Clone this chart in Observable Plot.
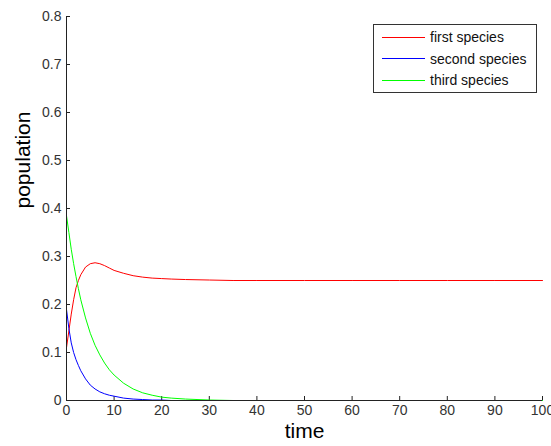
<!DOCTYPE html>
<html>
<head>
<meta charset="utf-8">
<script src="https://cdn.jsdelivr.net/npm/d3@7"></script>
<script src="https://cdn.jsdelivr.net/npm/@observablehq/plot@0.6"></script>
<style>
  html, body { margin: 0; padding: 0; background: #fff; }
  #wrap { position: relative; width: 551px; height: 446px; font-family: "Liberation Sans", Arial, sans-serif; }
  #legend { position: absolute; left: 373px; top: 24px; width: 162px; height: 67px; border: 1px solid #333; background: #fff; }
  .row { position: absolute; left: 0; height: 20px; display: flex; align-items: center; font-size: 14px; color: #111; }
  .swatch { display: inline-block; width: 43px; height: 0; border-top: 1px solid; margin-left: 8px; margin-right: 5px; }
</style>
</head>
<body>
<div id="wrap"></div>
<script>
const time   = [0, 0.5, 1, 1.5, 2, 2.5, 3, 4, 5, 6, 7, 8, 9, 10, 12, 14, 16, 18, 20, 22, 25, 30, 35, 40, 50, 60, 70, 80, 90, 100];
const first  = [0.11, 0.145, 0.18, 0.21, 0.235, 0.25, 0.262, 0.278, 0.285, 0.287, 0.285, 0.281, 0.276, 0.271, 0.265, 0.26, 0.257, 0.255, 0.254, 0.253, 0.252, 0.251, 0.25, 0.25, 0.25, 0.25, 0.25, 0.25, 0.25, 0.25];
const second = [0.19, 0.15, 0.12, 0.1, 0.085, 0.073, 0.062, 0.045, 0.032, 0.024, 0.018, 0.014, 0.011, 0.009, 0.005, 0.003, 0.002, 0.001, 0.001, 0, 0, 0, 0, 0, 0, 0, 0, 0, 0, 0];
const third  = [0.385, 0.35, 0.315, 0.285, 0.258, 0.233, 0.21, 0.172, 0.14, 0.115, 0.095, 0.078, 0.064, 0.053, 0.036, 0.024, 0.016, 0.011, 0.007, 0.005, 0.003, 0.001, 0, 0, 0, 0, 0, 0, 0, 0];
const seriesNames  = ["first species", "second species", "third species"];
const seriesColors = ["#ff0000", "#0000ff", "#00ff00"];
const xTicks = [0, 10, 20, 30, 40, 50, 60, 70, 80, 90, 100];
const yTicks = [0, 0.1, 0.2, 0.3, 0.4, 0.5, 0.6, 0.7, 0.8];
const xLabel = "time";
const yLabel = "population";

const seriesValues = [first, second, third];
const rows = [];
seriesNames.forEach((name, i) => {
  time.forEach((t, j) => rows.push({series: name, time: t, value: seriesValues[i][j]}));
});

const chart = Plot.plot({
  width: 551,
  height: 446,
  marginLeft: 66,
  marginRight: 9,
  marginTop: 16,
  marginBottom: 46,
  style: {fontFamily: "'Liberation Sans', Arial, sans-serif", fontSize: "14px", background: "white", color: "#333"},
  x: {domain: [0, 100]},
  y: {domain: [0, 0.8]},
  color: {domain: seriesNames, range: seriesColors},
  marks: [
    Plot.axisX(xTicks, {tickSize: -4, tickPadding: 9, label: null, stroke: "#222", fill: "#333", tickFormat: d => String(d)}),
    Plot.axisY(yTicks, {tickSize: -4, tickPadding: 9, label: null, stroke: "#222", fill: "#333", tickFormat: d => String(d)}),
    Plot.line(rows, {x: "time", y: "value", z: "series", stroke: "series", strokeWidth: 1}),
    Plot.ruleX([0], {stroke: "#222"}),
    Plot.ruleY([0], {stroke: "#222"}),
    Plot.text([xLabel], {frameAnchor: "bottom", dy: 37, fontSize: 21, fill: "#000"}),
    Plot.text([yLabel], {frameAnchor: "left", dx: -43, rotate: -90, fontSize: 21, fill: "#000"})
  ]
});

const wrap = document.getElementById("wrap");
wrap.appendChild(chart);

const legend = document.createElement("div");
legend.id = "legend";
seriesNames.forEach((name, i) => {
  const row = document.createElement("div");
  row.className = "row";
  row.style.top = (2 + i * 21.7) + "px";
  const sw = document.createElement("span");
  sw.className = "swatch";
  sw.style.borderTopColor = seriesColors[i];
  const tx = document.createElement("span");
  tx.textContent = name;
  row.appendChild(sw);
  row.appendChild(tx);
  legend.appendChild(row);
});
wrap.appendChild(legend);
</script>
</body>
</html>
